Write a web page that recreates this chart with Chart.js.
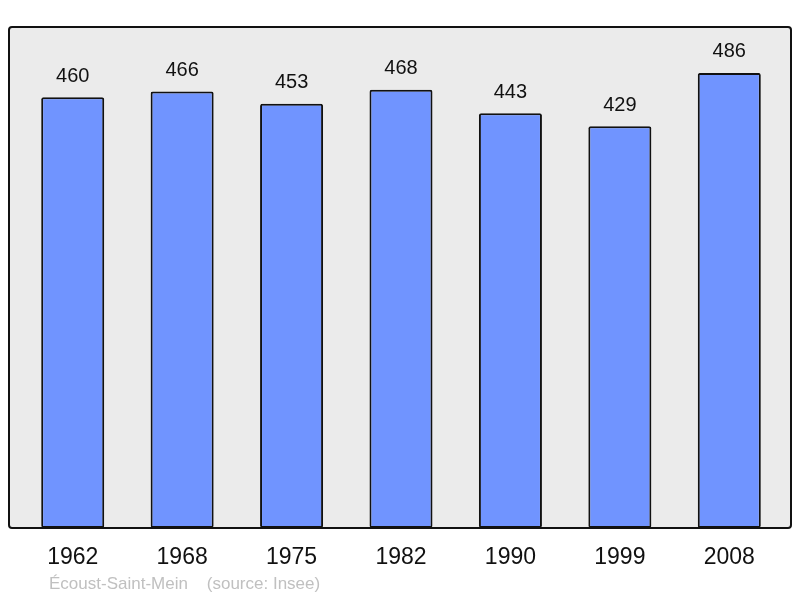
<!DOCTYPE html>
<html>
<head>
<meta charset="utf-8">
<script src="https://cdn.jsdelivr.net/npm/chart.js@4/dist/chart.umd.min.js"></script>
<style>
  html, body { margin: 0; padding: 0; background: #fff; }
  #wrap { width: 800px; height: 598px; }
</style>
</head>
<body>
<div id="wrap"><canvas id="chart"></canvas></div>
<script>
const years = ["1962", "1968", "1975", "1982", "1990", "1999", "2008"];
const population = [460, 466, 453, 468, 443, 429, 486];
const yMax = 535;
const footer = "Écoust-Saint-Mein    (source: Insee)";

// grey frame behind the bars, a bit wider than the category area
const frame = {
  id: "frame",
  beforeDatasetsDraw(chart) {
    const ctx = chart.ctx;
    const a = chart.chartArea;
    ctx.save();
    ctx.fillStyle = "#ebebeb";
    ctx.beginPath();
    ctx.roundRect(9, a.top, 782, a.bottom - a.top, 3);
    ctx.fill();
    ctx.restore();
  },
  afterDatasetsDraw(chart) {
    const ctx = chart.ctx;
    const a = chart.chartArea;
    const x = chart.scales.x;
    const y = chart.scales.y;
    ctx.save();
    ctx.strokeStyle = "#111";
    ctx.lineWidth = 2;
    ctx.beginPath();
    ctx.roundRect(9, a.top, 782, a.bottom - a.top, 3);
    ctx.stroke();

    ctx.fillStyle = "#111";
    ctx.textAlign = "center";
    ctx.textBaseline = "middle";
    ctx.font = "20px 'Liberation Sans', Arial, sans-serif";
    population.forEach((v, i) => {
      ctx.fillText(String(v), x.getPixelForValue(i), y.getPixelForValue(v) - 21);
    });

    ctx.font = "23px 'Liberation Sans', Arial, sans-serif";
    years.forEach((lab, i) => {
      ctx.fillText(lab, x.getPixelForValue(i), a.bottom + 30);
    });

    ctx.fillStyle = "#c0c0c0";
    ctx.textAlign = "left";
    ctx.font = "17px 'Liberation Sans', Arial, sans-serif";
    ctx.fillText(footer, 49, a.bottom + 56);
    ctx.restore();
  }
};

new Chart(document.getElementById("chart").getContext("2d"), {
  type: "bar",
  data: {
    labels: years,
    datasets: [
      {
        data: population,
        backgroundColor: "#7094ff",
        borderColor: "#111",
        borderWidth: 2,
        borderRadius: 2,
        borderSkipped: false,
        barPercentage: 0.576,
        categoryPercentage: 1,
      },
    ],
  },
  options: {
    responsive: true,
    maintainAspectRatio: false,
    animation: false,
    layout: { padding: { left: 18, right: 16, top: 27, bottom: 70 } },
    scales: {
      x: { display: false },
      y: { display: false, min: 0, max: yMax },
    },
    plugins: {
      legend: { display: false },
      tooltip: { enabled: false },
    },
  },
  plugins: [frame],
});
</script>
</body>
</html>
